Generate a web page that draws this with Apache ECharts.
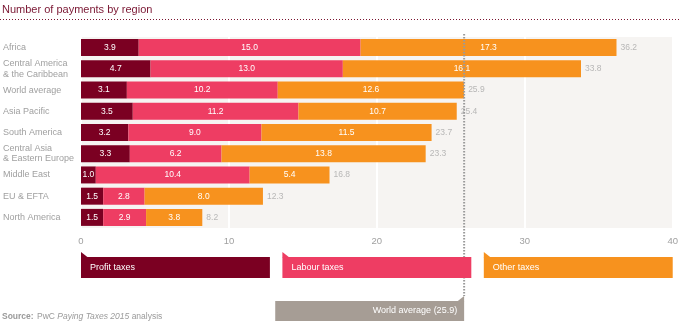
<!DOCTYPE html>
<html><head><meta charset="utf-8">
<script src="https://cdn.jsdelivr.net/npm/echarts@6/dist/echarts.min.js"></script>
<style>html,body{margin:0;padding:0;background:#fff}#c{width:681px;height:331px}</style>
</head><body><div id="c"></div>
<script>
const categories = ['Africa','Central America\n& the Caribbean','World average','Asia Pacific','South America','Central Asia\n& Eastern Europe','Middle East','EU & EFTA','North America'];
const profitTaxes = [3.9,4.7,3.1,3.5,3.2,3.3,1.0,1.5,1.5];
const labourTaxes = [15.0,13.0,10.2,11.2,9.0,6.2,10.4,2.8,2.9];
const otherTaxes  = [17.3,16.1,12.6,10.7,11.5,13.8,5.4,8.0,3.8];
const totals      = [36.2,33.8,25.9,25.4,23.7,23.3,16.8,12.3,8.2];
const worldAverage = 25.9;
const xTicks = [0,10,20,30,40];
const seriesNames = ['Profit taxes','Labour taxes','Other taxes'];
const worldAvgLabel = 'World average (25.9)';
const titleText = 'Number of payments by region';

const FONT = '"Liberation Sans", Arial, sans-serif';
const colors = ['#7b0022','#ee3d63','#f7921e'];
const chart = echarts.init(document.getElementById('c'), null, {renderer:'canvas'});

function barSeries(name, data, color){
  return {
    name, type:'bar', stack:'t', data, barWidth:17,
    itemStyle:{color},
    label:{show:true, position:'inside', color:'#fff', fontSize:8.5, fontFamily:FONT,
      formatter:p=>p.value.toFixed(1)},
    silent:true
  };
}

chart.setOption({
  animation:false,
  textStyle:{fontFamily:FONT},
  grid:{left:80, right:6, top:37, height:191, show:true, backgroundColor:'#f6f4f2', borderWidth:0},
  xAxis:{type:'value', min:xTicks[0], max:xTicks[xTicks.length-1], interval:10,
    axisLine:{show:false}, axisTick:{show:false},
    axisLabel:{color:'#a0a0a0', fontSize:9.5, margin:8, fontFamily:FONT},
    splitLine:{show:true, lineStyle:{color:'#ffffff', width:2}}},
  yAxis:{type:'category', inverse:true, data:categories,
    axisLine:{show:false}, axisTick:{show:false},
    axisLabel:{color:'#a0a0a0', fontSize:9, align:'left', margin:78, lineHeight:10.5, fontFamily:FONT}},
  series:[
    barSeries(seriesNames[0], profitTaxes, colors[0]),
    barSeries(seriesNames[1], labourTaxes, colors[1]),
    barSeries(seriesNames[2], otherTaxes, colors[2]),
    {type:'scatter', symbolSize:0, silent:true,
      data: totals.map((t,i)=>[t, categories[i]]),
      label:{show:true, position:'right', distance:4, color:'#a8a8a8', fontSize:8.5, fontFamily:FONT,
        formatter:p=>p.value[0].toFixed(1)}}
  ]
});

const x0 = chart.convertToPixel({xAxisIndex:0}, xTicks[0]);
const x1 = chart.convertToPixel({xAxisIndex:0}, xTicks[xTicks.length-1]);
const lx = chart.convertToPixel({xAxisIndex:0}, worldAverage);
const gap = 12.5;
const bw = (x1 - x0 - 2*gap)/3;
const els = [];
els.push({type:'text', left:2, top:4, style:{text:titleText, fill:'#7a1632', fontSize:11, fontFamily:FONT}});
els.push({type:'line', shape:{x1:0,y1:19.5,x2:681,y2:19.5}, style:{stroke:'#7a1632', lineWidth:1, lineDash:[1,2]}});
els.push({type:'line', z:50, shape:{x1:lx,y1:34,x2:lx,y2:296}, style:{stroke:'#9a9a9a', lineWidth:2, lineDash:[1.5,1.5]}});
for(let i=0;i<3;i++){
  const bx = x0 + i*(bw+gap);
  els.push({type:'polygon', z:60, shape:{points:[[bx,252],[bx,257.5],[bx+7,257.5]]}, style:{fill:colors[i]}});
  els.push({type:'rect', z:60, shape:{x:bx,y:257,width:bw,height:21}, style:{fill:colors[i]}});
  els.push({type:'text', z:61, x:bx+9, y:268, style:{text:seriesNames[i], fill:'#fff', fontSize:9, fontFamily:FONT, verticalAlign:'middle'}});
}
els.push({type:'polygon', z:60, shape:{points:[[lx,296],[lx,301.5],[lx-7,301.5]]}, style:{fill:'#a69d95'}});
els.push({type:'rect', z:60, shape:{x:lx-bw,y:301,width:bw,height:20}, style:{fill:'#a69d95'}});
els.push({type:'text', z:61, x:lx-7, y:311, style:{text:worldAvgLabel, fill:'#fff', fontSize:9, fontFamily:FONT, align:'right', verticalAlign:'middle'}});
els.push({type:'text', left:2, top:311, style:{
  text:'{b|Source:} {n|PwC }{i|Paying Taxes 2015}{n| analysis}',
  rich:{b:{fontWeight:'bold', fill:'#9a9a9a', fontSize:8.5, fontFamily:FONT},
        n:{fill:'#9a9a9a', fontSize:8.5, fontFamily:FONT},
        i:{fontStyle:'italic', fill:'#9a9a9a', fontSize:8.5, fontFamily:FONT}}}});
chart.setOption({graphic:els});
</script></body></html>
